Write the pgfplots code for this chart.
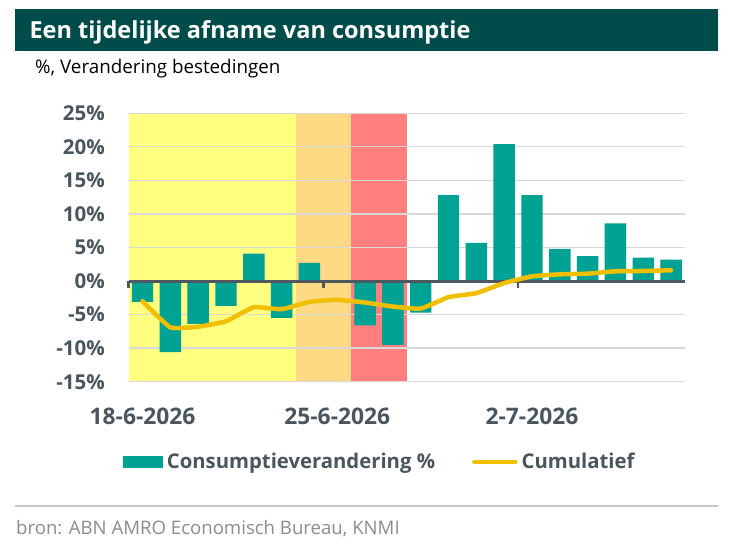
\documentclass[border=0pt]{standalone}
\usepackage{fontspec}
\setmainfont{Open Sans}
\usepackage{pgfplots}
\pgfplotsset{compat=1.18}
\definecolor{header}{HTML}{004C4A}
\definecolor{barteal}{HTML}{00A293}
\definecolor{cumline}{HTML}{F2BF00}
\definecolor{bgyellow}{HTML}{FFFF80}
\definecolor{bgorange}{HTML}{FFDA85}
\definecolor{bgred}{HTML}{FF7F7F}
\definecolor{gridgray}{HTML}{D9D9D9}
\definecolor{axisgray}{HTML}{4D5860}
\definecolor{labelgray}{HTML}{4A565E}
\definecolor{srcgray}{HTML}{8C8C8C}
\definecolor{sepgray}{HTML}{C8C8C8}
\begin{document}
\begin{tikzpicture}[x=1pt,y=1pt]
% header band
\fill[header] (15,500) rectangle (718,542);
\node[anchor=base west, inner sep=0pt, text=white, font=\bfseries\fontsize{23.5}{26}\selectfont] at (29.3,512.5) {Een tijdelijke afname van consumptie};
\node[anchor=base west, inner sep=0pt, text=black, font=\fontsize{18.8}{22}\selectfont] at (35,477) {\%, Verandering bestedingen};
% footer
\draw[sepgray, line width=1.2pt] (15,45) -- (718,45);
\node[anchor=base west, inner sep=0pt, text=srcgray, font=\fontsize{18.6}{22}\selectfont] at (16,16) {bron: ABN AMRO Economisch Bureau, KNMI};
\begin{axis}[
  set layers,
  at={(128.6pt,169.3pt)}, anchor=south west,
  scale only axis, width=556.4pt, height=268.4pt,
  xmin=-0.5, xmax=19.5, ymin=-15, ymax=25,
  axis line style={draw=none},
  major tick style={draw=none},
  xtick={0,7,14},
  xticklabels={18-6-2026,25-6-2026,2-7-2026},
  ytick={-15,-10,-5,0,5,10,15,20,25},
  yticklabels={-15\%,-10\%,-5\%,0\%,5\%,10\%,15\%,20\%,25\%},
  ymajorgrids,
  grid style={gridgray, line width=1.3pt},
  yticklabel style={anchor=east, inner sep=0pt, xshift=-23.6pt, text=labelgray, font=\bfseries\fontsize{20.5}{24}\selectfont},
  xticklabel style={anchor=north, inner sep=0pt, yshift=-26pt, text=labelgray, font=\bfseries\fontsize{22.8}{26}\selectfont},
  clip=false,
  legend style={at={(axis description cs:-0.0106,-0.299)}, anchor=west, draw=none, fill=none, inner sep=0pt,
    font=\bfseries\fontsize{20.3}{23}\selectfont, text=labelgray,
    nodes={inner sep=0pt},
    /tikz/every odd column/.append style={column sep=4pt},
    /tikz/every even column/.append style={column sep=37pt}},
  legend columns=-1,
]
\begin{pgfonlayer}{axis background}
\fill[bgyellow] (axis cs:-0.5,-15) rectangle (axis cs:5.5,25);
\fill[bgorange] (axis cs:5.5,-15) rectangle (axis cs:7.5,25);
\fill[bgred] (axis cs:7.5,-15) rectangle (axis cs:9.5,25);
\end{pgfonlayer}
\addplot[ybar, bar width=0.77, fill=barteal, draw=none,
  legend image code/.code={\fill[barteal] (0pt,-6pt) rectangle (40pt,6pt);}]
  coordinates {(0,-3.1) (1,-10.6) (2,-6.4) (3,-3.7) (4,4.1) (5,-5.5) (6,2.7)
  (8,-6.6) (9,-9.5) (10,-4.7) (11,12.8) (12,5.7) (13,20.4) (14,12.8) (15,4.8)
  (16,3.7) (17,8.6) (18,3.5) (19,3.2)};
\addlegendentry{Consumptieverandering \%}
\addplot[axisgray, line width=3pt, forget plot] coordinates {(-0.5,0) (19.5,0)};
\addplot[axisgray, line width=2.5pt, forget plot] coordinates {(-0.5,0) (-0.5,-1.1)};
\addplot[axisgray, line width=2.5pt, forget plot] coordinates {(6.5,0) (6.5,-1.1)};
\addplot[axisgray, line width=2.5pt, forget plot] coordinates {(13.5,0) (13.5,-1.1)};
\addplot[cumline, line width=4.5pt, line cap=round, line join=round, smooth, tension=0.25,
  legend image code/.code={\draw[cumline, line width=4.5pt, line cap=round] (2pt,0pt) -- (43pt,0pt);}]
  coordinates {(0,-3.0) (1,-6.9) (2,-6.8) (3,-6.0) (4,-3.9) (5,-4.2) (6,-3.1) (7,-2.8)
  (8,-3.2) (9,-3.8) (10,-4.1) (11,-2.4) (12,-1.8) (13,-0.3) (14,0.7) (15,1.0)
  (16,1.1) (17,1.45) (18,1.5) (19,1.6)};
\addlegendentry{Cumulatief}
\end{axis}
\pgfresetboundingbox
\path[use as bounding box] (0,0) rectangle (732,551);
\end{tikzpicture}
\end{document}
